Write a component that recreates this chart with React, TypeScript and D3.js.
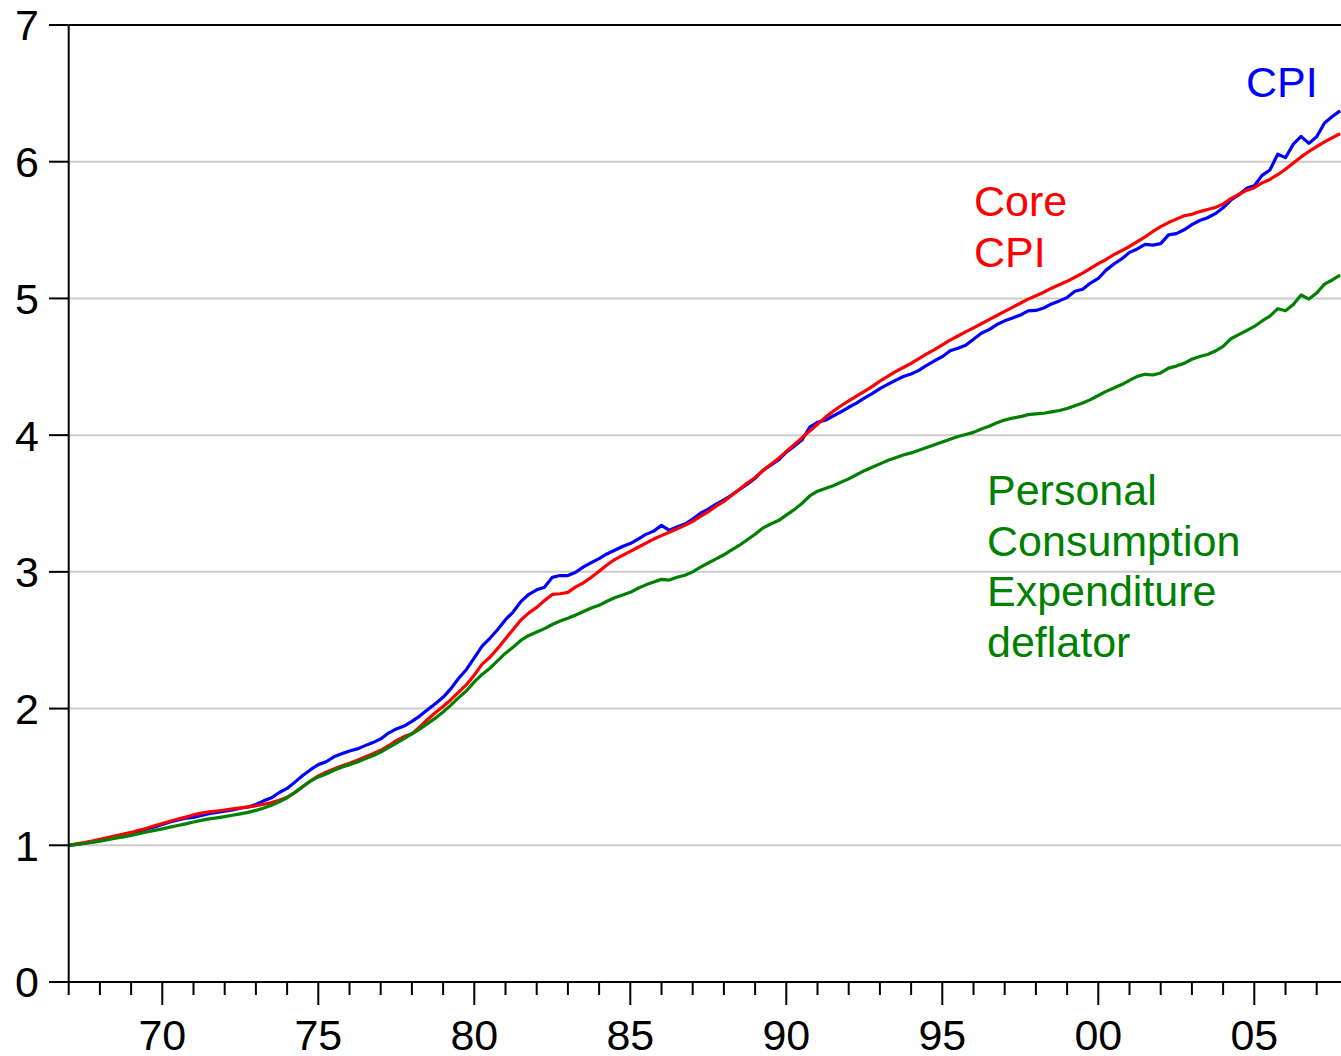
import { scaleLinear, line as d3line, range } from "d3";

// quarterly observations, 1967Q1 .. 2007Q4, index 1967:01 = 1
const startYear = 1967;

const cpi = [
  1.000, 1.006, 1.015, 1.024, 1.036, 1.049, 1.064, 1.076,
  1.085, 1.103, 1.119, 1.134, 1.152, 1.170, 1.185, 1.198,
  1.204, 1.219, 1.231, 1.240, 1.249, 1.258, 1.271, 1.280,
  1.298, 1.325, 1.347, 1.386, 1.416, 1.462, 1.511, 1.553,
  1.590, 1.611, 1.647, 1.669, 1.690, 1.705, 1.729, 1.751,
  1.778, 1.821, 1.851, 1.872, 1.906, 1.945, 1.991, 2.036,
  2.082, 2.146, 2.222, 2.286, 2.371, 2.456, 2.514, 2.578,
  2.650, 2.708, 2.784, 2.836, 2.869, 2.888, 2.960, 2.973,
  2.973, 2.997, 3.036, 3.067, 3.097, 3.131, 3.158, 3.185,
  3.207, 3.240, 3.274, 3.298, 3.340, 3.304, 3.328, 3.350,
  3.386, 3.429, 3.459, 3.495, 3.526, 3.562, 3.602, 3.641,
  3.684, 3.742, 3.781, 3.818, 3.875, 3.918, 3.964, 4.058,
  4.094, 4.109, 4.140, 4.170, 4.204, 4.234, 4.271, 4.304,
  4.340, 4.371, 4.401, 4.429, 4.447, 4.474, 4.511, 4.544,
  4.574, 4.617, 4.635, 4.657, 4.702, 4.745, 4.772, 4.809,
  4.836, 4.857, 4.878, 4.909, 4.912, 4.930, 4.960, 4.982,
  5.006, 5.052, 5.067, 5.112, 5.146, 5.207, 5.252, 5.289,
  5.337, 5.362, 5.395, 5.390, 5.401, 5.465, 5.474, 5.502,
  5.540, 5.570, 5.590, 5.620, 5.663, 5.720, 5.757, 5.805,
  5.824, 5.900, 5.939, 6.055, 6.030, 6.128, 6.185, 6.134,
  6.182, 6.283, 6.331, 6.372,
];

const coreCpi = [
  1.000, 1.010, 1.020, 1.031, 1.043, 1.056, 1.069, 1.082,
  1.094, 1.110, 1.125, 1.143, 1.160, 1.176, 1.192, 1.206,
  1.222, 1.235, 1.245, 1.251, 1.258, 1.266, 1.274, 1.281,
  1.289, 1.300, 1.312, 1.330, 1.352, 1.385, 1.428, 1.470,
  1.508, 1.535, 1.558, 1.580, 1.600, 1.622, 1.646, 1.670,
  1.695, 1.728, 1.765, 1.795, 1.815, 1.865, 1.920, 1.970,
  2.015, 2.065, 2.120, 2.175, 2.245, 2.325, 2.375, 2.440,
  2.510, 2.580, 2.650, 2.700, 2.740, 2.790, 2.835, 2.840,
  2.850, 2.890, 2.920, 2.960, 3.005, 3.050, 3.090, 3.120,
  3.150, 3.180, 3.210, 3.240, 3.265, 3.290, 3.315, 3.340,
  3.370, 3.405, 3.440, 3.480, 3.515, 3.560, 3.605, 3.650,
  3.690, 3.740, 3.785, 3.830, 3.880, 3.930, 3.980, 4.030,
  4.080, 4.130, 4.175, 4.215, 4.250, 4.285, 4.320, 4.355,
  4.395, 4.430, 4.465, 4.495, 4.525, 4.560, 4.595, 4.625,
  4.660, 4.695, 4.725, 4.755, 4.785, 4.815, 4.845, 4.875,
  4.905, 4.935, 4.965, 4.995, 5.020, 5.045, 5.075, 5.100,
  5.125, 5.155, 5.185, 5.220, 5.255, 5.285, 5.320, 5.350,
  5.380, 5.415, 5.450, 5.490, 5.525, 5.555, 5.580, 5.605,
  5.615, 5.635, 5.650, 5.665, 5.690, 5.730, 5.760, 5.790,
  5.810, 5.845, 5.870, 5.905, 5.945, 5.990, 6.035, 6.075,
  6.110, 6.145, 6.175, 6.205,
];

const pceDeflator = [
  1.000, 1.006, 1.013, 1.021, 1.030, 1.041, 1.052, 1.062,
  1.072, 1.084, 1.097, 1.109, 1.120, 1.133, 1.145, 1.157,
  1.170, 1.182, 1.193, 1.201, 1.210, 1.220, 1.230, 1.241,
  1.255, 1.273, 1.293, 1.318, 1.348, 1.388, 1.430, 1.470,
  1.500, 1.522, 1.548, 1.570, 1.590, 1.610, 1.632, 1.655,
  1.682, 1.715, 1.748, 1.780, 1.815, 1.850, 1.890, 1.930,
  1.975, 2.025, 2.080, 2.130, 2.195, 2.250, 2.295, 2.350,
  2.405, 2.450, 2.500, 2.535, 2.560, 2.585, 2.615, 2.640,
  2.660, 2.685, 2.710, 2.735, 2.755, 2.785, 2.810, 2.830,
  2.850, 2.880, 2.905, 2.925, 2.945, 2.940, 2.960, 2.975,
  3.000, 3.035, 3.065, 3.095, 3.125, 3.160, 3.195, 3.235,
  3.275, 3.320, 3.350, 3.375, 3.415, 3.455, 3.500, 3.555,
  3.590, 3.610, 3.630, 3.655, 3.680, 3.710, 3.740, 3.765,
  3.790, 3.815, 3.835, 3.855, 3.870, 3.890, 3.910, 3.930,
  3.950, 3.970, 3.990, 4.005, 4.020, 4.045, 4.065, 4.090,
  4.110, 4.125, 4.135, 4.150, 4.155, 4.160, 4.170, 4.180,
  4.195, 4.215, 4.235, 4.260, 4.290, 4.320, 4.345, 4.370,
  4.400, 4.430, 4.445, 4.440, 4.455, 4.490, 4.505, 4.525,
  4.555, 4.575, 4.590, 4.615, 4.650, 4.705, 4.735, 4.765,
  4.795, 4.835, 4.870, 4.925, 4.910, 4.955, 5.025, 4.995,
  5.040, 5.105, 5.135, 5.170,
];

const yTicks = [0, 1, 2, 3, 4, 5, 6, 7];
const xMajor = [1970, 1975, 1980, 1985, 1990, 1995, 2000, 2005];
const xMajorLabels = ["70", "75", "80", "85", "90", "95", "00", "05"];

const seriesList = [
  { name: "CPI", values: cpi, color: "#0000ff" },
  { name: "Core CPI", values: coreCpi, color: "#ff0000" },
  { name: "PCE deflator", values: pceDeflator, color: "#008000" },
];

const labels = [
  { lines: ["CPI"], x: 1246, y: 97, color: "#0000ff" },
  { lines: ["Core", "CPI"], x: 974, y: 216, color: "#ff0000" },
  { lines: ["Personal", "Consumption", "Expenditure", "deflator"], x: 987, y: 505, color: "#008000" },
];

const W = 1341;
const H = 1056;
const FONT = "'Liberation Sans', Arial, Helvetica, sans-serif";

export default function App() {
  const left = 68.7;
  const top = 25;
  const bottom = 982;
  const perYear = 31.2;

  const x = scaleLinear().domain([startYear, 2008]).range([left, left + 41 * perYear]);
  const y = scaleLinear().domain([0, 7]).range([bottom, top]);

  const t = (i: number) => startYear + i / 4;
  const line = d3line<number>()
    .x((_, i) => x(t(i)))
    .y((d) => y(d));

  const years = range(startYear, 2009);

  return (
    <svg
      width={W}
      height={H}
      style={{ position: "absolute", left: 0, top: 0, background: "#fff" }}
      fontFamily={FONT}
    >
      <rect x={0} y={0} width={W} height={H} fill="#fff" />

      {/* grid */}
      {yTicks
        .filter((v) => v > 0 && v < 7)
        .map((v) => (
          <line key={v} x1={left} x2={W + 5} y1={y(v)} y2={y(v)} stroke="#cccccc" strokeWidth={2} />
        ))}

      {/* series */}
      {seriesList.map((s) => (
        <path key={s.name} d={line(s.values) ?? undefined} fill="none" stroke={s.color} strokeWidth={3.2} strokeLinejoin="round" />
      ))}

      {/* frame */}
      <line x1={left} x2={W + 5} y1={top} y2={top} stroke="#000" strokeWidth={2} />
      <line x1={left} x2={W + 5} y1={bottom} y2={bottom} stroke="#000" strokeWidth={2} />
      <line x1={left} x2={left} y1={top} y2={bottom} stroke="#000" strokeWidth={2} />

      {/* y axis */}
      {yTicks.map((v) => (
        <g key={v}>
          <line x1={49} x2={left} y1={y(v)} y2={y(v)} stroke="#000" strokeWidth={2} />
          <text x={39} y={y(v)} dy="0.36em" textAnchor="end" fontSize={43} fill="#000">
            {v}
          </text>
        </g>
      ))}

      {/* x axis */}
      {years.map((yr) => {
        const major = xMajor.includes(yr);
        return (
          <line key={yr} x1={x(yr)} x2={x(yr)} y1={bottom} y2={major ? 1005 : 995} stroke="#000" strokeWidth={2} />
        );
      })}
      {xMajor.map((yr, i) => (
        <text key={yr} x={x(yr)} y={1050} textAnchor="middle" fontSize={43} fill="#000">
          {xMajorLabels[i]}
        </text>
      ))}

      {/* labels */}
      {labels.map((l) => (
        <text key={l.lines[0]} x={l.x} y={l.y} fontSize={43} fill={l.color}>
          {l.lines.map((ln, i) => (
            <tspan key={i} x={l.x} dy={i === 0 ? 0 : 50.5}>
              {ln}
            </tspan>
          ))}
        </text>
      ))}
    </svg>
  );
}
